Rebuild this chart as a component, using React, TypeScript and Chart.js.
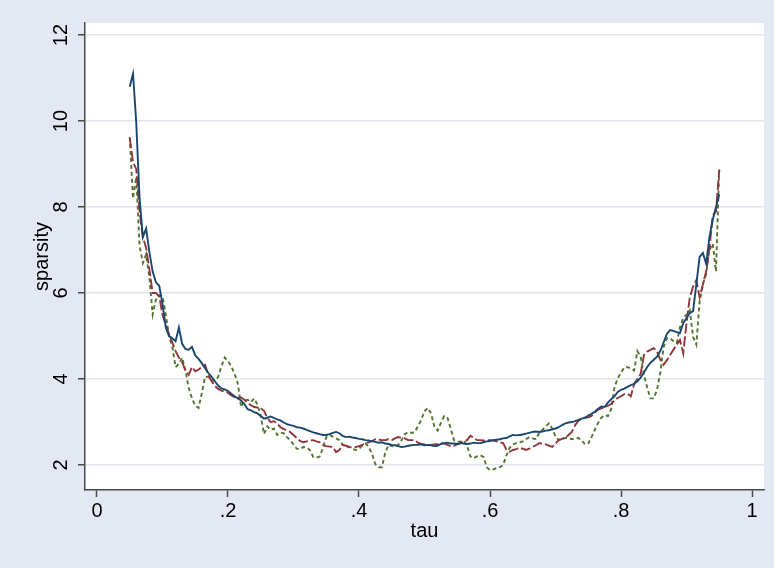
import React, { useEffect, useRef } from "react";
import { Chart, registerables } from "chart.js";

Chart.register(...registerables);

// tau grid: 0.050 to 0.950, step 0.005 (181 points)
const tau: number[] = Array.from({ length: 181 }, (_, i) => Math.round((0.05 + i * 0.005) * 1000) / 1000);

const seriesNavy: number[] = [
  10.8, 11.1, 9.95, 8.2, 7.3, 7.5, 6.95, 6.5, 6.25, 6.17,
  5.75, 5.2, 5.0, 4.95, 4.88, 5.2, 4.82, 4.7, 4.68, 4.75,
  4.55, 4.47, 4.37, 4.25, 4.14, 4.05, 3.95, 3.85, 3.78, 3.76,
  3.72, 3.66, 3.6, 3.55, 3.5, 3.42, 3.3, 3.27, 3.23, 3.2,
  3.14, 3.08, 3.1, 3.13, 3.1, 3.06, 3.04, 2.99, 2.95, 2.93,
  2.91, 2.88, 2.87, 2.85, 2.82, 2.79, 2.76, 2.74, 2.72, 2.7,
  2.7, 2.72, 2.75, 2.77, 2.74, 2.68, 2.65, 2.66, 2.64, 2.63,
  2.61, 2.6, 2.58, 2.57, 2.55, 2.54, 2.52, 2.53, 2.5, 2.49,
  2.47, 2.46, 2.44, 2.42, 2.43, 2.45, 2.46, 2.47, 2.47, 2.48,
  2.46, 2.47, 2.46, 2.44, 2.45, 2.49, 2.51, 2.52, 2.5, 2.5,
  2.49, 2.51, 2.5, 2.49, 2.5, 2.52, 2.51, 2.51, 2.53, 2.55,
  2.56, 2.58, 2.59, 2.6, 2.62, 2.63, 2.67, 2.7, 2.69, 2.7,
  2.71, 2.73, 2.75, 2.77, 2.78, 2.77, 2.78, 2.8, 2.81, 2.83,
  2.85, 2.88, 2.93, 2.97, 2.99, 3.0, 3.02, 3.05, 3.08, 3.1,
  3.15, 3.19, 3.24, 3.31, 3.36, 3.35, 3.45, 3.53, 3.6, 3.7,
  3.75, 3.78, 3.82, 3.86, 3.89, 3.95, 4.03, 4.15, 4.28, 4.38,
  4.45, 4.52, 4.65, 4.85, 5.05, 5.14, 5.12, 5.09, 5.07, 5.3,
  5.42, 5.53, 5.58, 6.2, 6.84, 6.93, 6.68, 7.3, 7.7, 8.0,
  8.3,
];

const seriesMaroon: number[] = [
  9.6, 9.05, 8.88, 7.9, 7.3, 7.05, 6.55, 6.0, 6.0, 5.92,
  5.5, 5.25, 5.05, 4.85, 4.65, 4.5, 4.4, 4.2, 4.1, 4.28,
  4.18, 4.22, 4.28, 4.33, 4.09, 3.95, 3.84, 3.77, 3.73, 3.71,
  3.68, 3.62, 3.58, 3.57, 3.57, 3.52, 3.45, 3.39, 3.35, 3.34,
  3.32, 3.26, 3.1, 3.0, 3.02, 2.97, 2.88, 2.84, 2.8, 2.77,
  2.7, 2.63, 2.56, 2.53, 2.55, 2.57, 2.58, 2.55, 2.53, 2.47,
  2.44, 2.43, 2.42, 2.3, 2.35, 2.47, 2.45, 2.42, 2.41, 2.42,
  2.44, 2.47, 2.51, 2.53, 2.56, 2.6, 2.59, 2.58, 2.58, 2.6,
  2.58, 2.62, 2.65, 2.63, 2.62, 2.58, 2.58, 2.58, 2.52, 2.49,
  2.48, 2.47, 2.47, 2.48, 2.49, 2.51, 2.5, 2.47, 2.44, 2.45,
  2.48, 2.51, 2.55, 2.58, 2.68, 2.64, 2.58, 2.58, 2.57, 2.58,
  2.58, 2.57, 2.55, 2.53, 2.51, 2.36, 2.31, 2.35, 2.37, 2.4,
  2.38, 2.35, 2.38, 2.42, 2.46, 2.51, 2.5, 2.48, 2.45, 2.42,
  2.5, 2.58, 2.61, 2.63, 2.7, 2.77, 2.93, 3.03, 3.08, 3.1,
  3.11, 3.14, 3.22, 3.29, 3.32, 3.34, 3.38, 3.42, 3.5, 3.56,
  3.6, 3.65, 3.66, 3.6, 3.88, 4.0, 4.12, 4.56, 4.64, 4.68,
  4.72, 4.64, 4.45, 4.33, 4.44, 4.56, 4.68, 4.8, 4.91, 4.6,
  5.3, 5.9, 6.15, 6.3, 5.9, 6.2, 6.5, 7.05, 7.8, 7.9,
  8.86,
];

const seriesGreen: number[] = [
  9.63, 8.2, 8.7, 7.1, 6.7, 6.9, 6.35, 5.5, 5.85, 5.95,
  5.93, 5.5, 5.0, 4.75, 4.28, 4.35, 4.5, 4.2, 3.8, 3.55,
  3.38, 3.33, 3.67, 4.05, 4.05, 3.98, 3.95, 4.05, 4.3, 4.5,
  4.42, 4.3, 4.12, 3.9, 3.35, 3.5, 3.52, 3.46, 3.55, 3.4,
  3.15, 2.72, 2.9, 2.82, 2.85, 2.7, 2.75, 2.74, 2.65, 2.58,
  2.48, 2.38, 2.37, 2.42, 2.41, 2.35, 2.19, 2.17, 2.2, 2.4,
  2.65, 2.7, 2.66, 2.62, 2.58, 2.47, 2.43, 2.42, 2.38, 2.35,
  2.38, 2.45, 2.5, 2.42, 2.25, 2.02, 1.95, 1.95, 2.28, 2.47,
  2.44, 2.43, 2.47, 2.58, 2.72, 2.77, 2.75, 2.76, 2.9, 3.05,
  3.25, 3.33, 3.2, 2.9, 2.8, 2.98, 3.14, 3.1, 2.85, 2.58,
  2.54, 2.55, 2.57, 2.45, 2.2, 2.16, 2.2, 2.23, 2.19, 1.95,
  1.88, 1.9, 1.93, 1.95, 2.0, 2.22, 2.4, 2.48, 2.51, 2.53,
  2.55, 2.6, 2.65, 2.62, 2.6, 2.74, 2.82, 2.9, 2.97, 2.85,
  2.66, 2.58, 2.62, 2.63, 2.63, 2.6, 2.62, 2.63, 2.58, 2.48,
  2.5, 2.65, 2.82, 2.98, 3.1, 3.16, 3.14, 3.3, 3.8, 4.02,
  4.15, 4.27, 4.28, 4.24, 4.2, 4.65, 4.52, 4.1, 3.8, 3.55,
  3.55, 3.75, 4.15, 4.74, 4.95, 4.95, 4.88, 4.84, 5.2, 5.42,
  5.5, 5.6, 4.98, 4.8, 5.8, 6.2, 6.45, 7.0, 7.15, 6.5,
  8.9,
];

const yTickValues: number[] = [2, 4, 6, 8, 10, 12];
const xTickValues: number[] = [0, 0.2, 0.4, 0.6, 0.8, 1];
const xTickLabels: string[] = ["0", ".2", ".4", ".6", ".8", "1"];
const xTitle = "tau";
const yTitle = "sparsity";

const FONT = '"Liberation Sans", Arial, Helvetica, sans-serif';
const FONT_SIZE = 20;
const BG = "#E4E8F2";
const AXIS = "#4a4a4a";
const GRID = "#DFE4EE";

const plotBgPlugin = {
  id: "plotBg",
  beforeDraw(chart: any) {
    const { ctx, chartArea } = chart;
    if (!chartArea) return;
    ctx.save();
    ctx.fillStyle = "#ffffff";
    ctx.fillRect(chartArea.left, chartArea.top, chartArea.right - chartArea.left, chartArea.bottom - chartArea.top);
    ctx.restore();
  },
};

const yLabelPlugin = {
  id: "yRotLabels",
  afterDraw(chart: any) {
    const { ctx } = chart;
    const ys = chart.scales.y;
    ctx.save();
    ctx.font = `${FONT_SIZE}px ${FONT}`;
    ctx.fillStyle = "#000";
    ctx.textAlign = "center";
    ctx.textBaseline = "middle";
    yTickValues.forEach((v) => {
      const py = ys.getPixelForValue(v);
      ctx.save();
      ctx.translate(61, py);
      ctx.rotate(-Math.PI / 2);
      ctx.fillText(String(v), 0, 0);
      ctx.restore();
    });
    ctx.restore();
  },
};

function makeData(values: number[]) {
  return tau.map((t, i) => ({ x: t, y: values[i] }));
}

export default function App() {
  const ref = useRef<HTMLCanvasElement | null>(null);

  useEffect(() => {
    document.body.style.margin = "0";
    const canvas = ref.current;
    if (!canvas) return;
    const chart = new Chart(canvas, {
      type: "line",
      data: {
        datasets: [
          {
            label: "navy",
            data: makeData(seriesNavy),
            borderColor: "#1A476F",
            borderWidth: 1.9,
            pointRadius: 0,
            tension: 0,
            fill: false,
          },
          {
            label: "maroon",
            data: makeData(seriesMaroon),
            borderColor: "#90353B",
            borderWidth: 1.9,
            borderDash: [10, 3],
            pointRadius: 0,
            tension: 0,
            fill: false,
          },
          {
            label: "green",
            data: makeData(seriesGreen),
            borderColor: "#55752F",
            borderWidth: 1.9,
            borderDash: [4, 3],
            pointRadius: 0,
            tension: 0,
            fill: false,
          },
        ],
      },
      options: {
        responsive: false,
        animation: false,
        devicePixelRatio: 1,
        layout: { padding: { top: 23, right: 10, bottom: 0, left: 0 } },
        plugins: {
          legend: { display: false },
          tooltip: { enabled: false },
        },
        scales: {
          x: {
            type: "linear",
            min: -0.0183,
            max: 1.0183,
            afterBuildTicks: (scale: any) => {
              scale.ticks = xTickValues.map((v) => ({ value: v }));
            },
            afterFit: (scale: any) => {
              scale.height = 78;
            },
            grid: {
              drawOnChartArea: false,
              drawTicks: true,
              tickLength: 7,
              tickColor: AXIS,
              tickWidth: 1.5,
            },
            border: { display: true, color: AXIS, width: 1.5 },
            ticks: {
              padding: 2,
              color: "#000",
              font: { family: FONT, size: FONT_SIZE },
              maxRotation: 0,
              minRotation: 0,
              autoSkip: false,
              callback: (_v: any, i: number) => xTickLabels[i],
            },
            title: {
              display: true,
              text: xTitle,
              color: "#000",
              font: { family: FONT, size: FONT_SIZE },
              padding: { top: 0, bottom: 25 },
            },
          },
          y: {
            type: "linear",
            min: 1.42,
            max: 12.28,
            afterBuildTicks: (scale: any) => {
              scale.ticks = yTickValues.map((v) => ({ value: v }));
            },
            afterFit: (scale: any) => {
              scale.width = 85;
            },
            grid: {
              color: GRID,
              lineWidth: 1.5,
              drawTicks: true,
              tickLength: 7,
              tickColor: AXIS,
              tickWidth: 1.5,
            },
            border: { display: true, color: AXIS, width: 1.5 },
            ticks: {
              color: "rgba(0,0,0,0)",
              font: { family: FONT, size: FONT_SIZE },
              autoSkip: false,
            },
            title: {
              display: true,
              text: yTitle,
              color: "#000",
              font: { family: FONT, size: FONT_SIZE },
              padding: { top: 30, bottom: 0 },
            },
          },
        },
      },
      plugins: [plotBgPlugin, yLabelPlugin],
    });
    return () => chart.destroy();
  }, []);

  return (
    <div style={{ width: 774, height: 568, background: BG }}>
      <canvas ref={ref} width={774} height={568} style={{ display: "block" }} />
    </div>
  );
}
